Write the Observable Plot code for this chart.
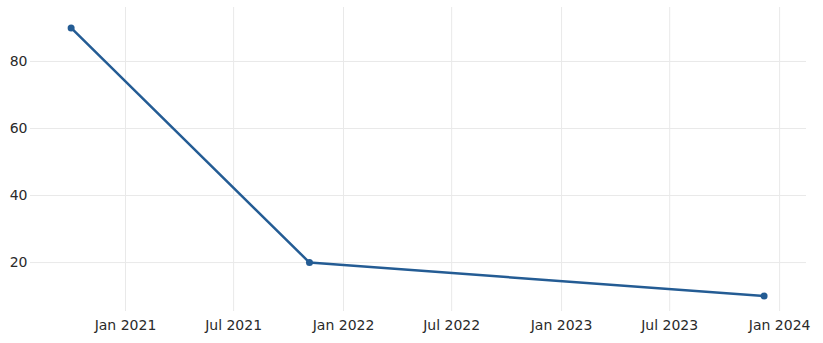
<!DOCTYPE html>
<html>
<head>
<meta charset="utf-8">
<script src="https://cdn.jsdelivr.net/npm/d3@7"></script>
<script src="https://cdn.jsdelivr.net/npm/@observablehq/plot@0.6"></script>
<style>
  html, body { margin: 0; padding: 0; background: #fff; }
  #chart svg { display: block; }
</style>
</head>
<body>
<div id="chart"></div>
<script>
const dates = ["2020-10-02", "2021-11-05", "2023-12-06"];
const values = [90, 20, 10];
const xTicks = ["2021-01-01", "2021-07-01", "2022-01-01", "2022-07-01", "2023-01-01", "2023-07-01", "2024-01-01"];
const yTicks = [20, 40, 60, 80];

const data = dates.map((d, i) => ({date: new Date(d), value: values[i]}));
const xTickDates = xTicks.map(d => new Date(d));

const chart = Plot.plot({
  width: 823,
  height: 343,
  marginLeft: 30,
  marginRight: 17,
  marginTop: 7,
  marginBottom: 32,
  style: {fontFamily: "'DejaVu Sans', sans-serif", fontSize: "14px", color: "#2a2a2a", background: "#fff"},
  x: {type: "utc", domain: [new Date("2020-07-26"), new Date("2024-02-15")]},
  y: {domain: [5.4, 96.1]},
  marks: [
    Plot.gridX(xTickDates, {stroke: "#e9e9e9", strokeOpacity: 1, strokeWidth: 1}),
    Plot.gridY(yTicks, {stroke: "#e9e9e9", strokeOpacity: 1, strokeWidth: 1}),
    Plot.axisX(xTickDates, {tickSize: 0, tickPadding: 9, tickFormat: d3.utcFormat("%b %Y"), label: null}),
    Plot.axisY(yTicks, {tickSize: 0, tickPadding: 3, label: null}),
    Plot.line(data, {x: "date", y: "value", stroke: "#245c94", strokeWidth: 2.5}),
    Plot.dot(data, {x: "date", y: "value", fill: "#245c94", r: 3.5})
  ]
});
document.getElementById("chart").append(chart);
</script>
</body>
</html>
